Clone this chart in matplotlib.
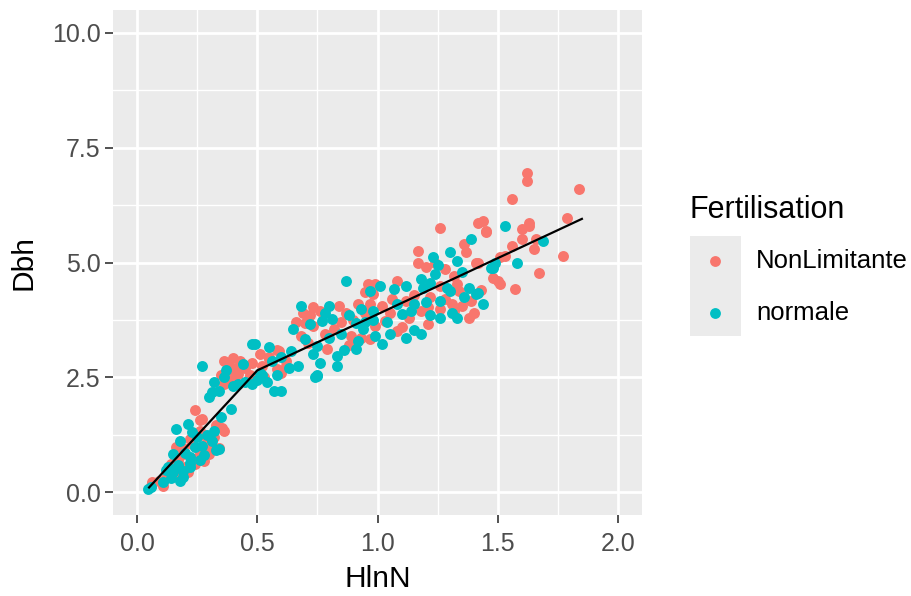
import numpy as np
import matplotlib
matplotlib.use("Agg")
from matplotlib import pyplot as plt
from matplotlib.patches import Rectangle

plt.rcParams['font.family'] = ['Liberation Sans', 'DejaVu Sans']

# NonLimitante (red)
nl_x = [0.06, 0.107, 0.063, 0.14, 0.18, 0.15, 0.24, 0.26, 0.26, 0.36, 0.30, 0.26, 0.30, 0.19, 0.16,
        0.21, 0.24, 0.36, 0.36, 0.40, 0.38, 0.42, 0.46, 0.355, 0.27, 0.34, 0.22, 0.20, 0.28, 0.12,
        0.17, 0.23, 0.29, 0.32, 0.14, 0.25, 0.19, 0.33, 0.28, 0.09,
        0.38, 0.40, 0.43, 0.35, 0.41, 0.47, 0.52, 0.55, 0.60, 0.62, 0.53, 0.58,
        0.96, 0.95, 0.69, 0.73, 0.84, 0.87, 0.73, 0.70, 0.68, 0.79, 0.89, 0.99, 0.59, 0.51, 0.48,
        0.58, 0.62, 0.93, 0.55, 0.45,
        0.72, 0.76, 0.82, 0.85, 0.90, 0.92, 0.78, 0.95, 0.88, 0.97, 0.66, 0.71,
        1.26, 1.42, 1.45, 1.36, 1.17, 1.17, 1.24, 1.37, 1.41, 1.50, 1.26, 1.08, 0.99, 1.33, 1.34,
        1.39, 1.12, 1.21, 1.06, 1.31, 1.26, 1.13, 1.38, 1.21, 1.08, 1.03, 0.98, 0.97,
        1.02, 1.05, 1.15, 1.18, 1.22, 1.28, 1.32, 1.35, 1.40, 1.10, 1.43, 1.28, 1.32, 1.20,
        1.62, 1.62, 1.84, 1.56, 1.79, 1.44, 1.45, 1.63, 1.60, 1.60, 1.66, 1.65, 1.56, 1.51, 1.53,
        1.77, 1.67, 1.48, 1.51, 1.57, 1.42, 1.63]
nl_y = [0.14, 0.14, 0.22, 0.62, 0.33, 0.48, 1.78, 1.56, 1.34, 1.34, 0.91, 0.87, 0.83, 0.83, 0.98,
        0.43, 0.62, 2.36, 2.86, 2.93, 2.79, 2.57, 2.43, 1.39, 1.60, 0.97, 1.15, 0.55, 1.25, 0.30,
        0.70, 1.05, 1.10, 1.20, 0.40, 0.75, 0.95, 1.45, 0.68, 0.25,
        2.60, 2.45, 2.85, 2.55, 2.70, 2.55, 2.75, 2.95, 2.60, 2.85, 2.50, 3.10,
        4.53, 4.35, 3.91, 4.02, 4.06, 3.91, 3.62, 3.69, 3.40, 3.11, 3.40, 3.62, 3.07, 3.00, 2.82,
        2.67, 2.75, 3.36, 2.90, 2.70,
        3.85, 3.95, 3.55, 3.70, 3.75, 4.10, 3.45, 3.90, 3.20, 4.10, 3.70, 3.25,
        5.76, 5.87, 5.66, 5.40, 5.25, 5.00, 5.00, 5.22, 5.00, 4.60, 4.49, 4.60, 4.53, 4.53, 4.38,
        4.16, 4.16, 4.02, 4.20, 4.09, 3.98, 3.80, 3.80, 3.65, 3.51, 3.73, 4.31, 3.33,
        4.05, 3.90, 4.30, 3.95, 4.25, 4.20, 3.95, 4.05, 3.90, 3.60, 4.40, 4.85, 4.70, 4.90,
        6.96, 6.78, 6.60, 6.38, 5.98, 5.90, 5.69, 5.87, 5.73, 5.51, 5.51, 5.29, 5.36, 5.11, 5.14,
        5.14, 4.78, 4.67, 4.53, 4.42, 5.00, 5.80]

# normale (teal)
no_x = [0.045, 0.056, 0.11, 0.15, 0.12, 0.19, 0.16, 0.21, 0.18, 0.32, 0.31, 0.24, 0.33, 0.22, 0.15,
        0.22, 0.18, 0.26, 0.35, 0.30, 0.34, 0.32, 0.27, 0.44, 0.48, 0.48, 0.42, 0.31, 0.39, 0.27,
        0.34, 0.22, 0.13,
        0.17, 0.20, 0.25, 0.28, 0.14, 0.23, 0.29, 0.19, 0.36, 0.45, 0.40, 0.37,
        0.51, 0.54, 0.60, 0.63, 0.58,
        0.87, 0.97, 0.68, 0.80, 0.93, 0.77, 0.81, 0.65, 0.70, 0.75, 0.83, 0.76, 0.67, 0.75, 0.83,
        0.91, 0.94, 0.99, 0.49, 0.55, 0.64, 0.52, 0.57, 0.60, 0.75, 0.91, 0.74, 0.50, 0.56,
        0.72, 0.78, 0.85, 0.88, 0.95, 0.92, 0.73, 0.86, 0.98, 0.80,
        1.39, 1.30, 1.33, 1.23, 1.48, 1.18, 1.24, 1.19, 1.01, 1.07, 1.12, 1.30, 1.36, 1.41, 1.15,
        1.26, 1.10, 1.26, 1.33, 1.15, 1.18, 0.98, 1.02,
        1.04, 1.08, 1.14, 1.20, 1.22, 1.29, 1.31, 1.38, 1.44, 1.12, 1.05, 1.25, 1.35, 1.22,
        1.53, 1.69, 1.58, 1.47, 1.49, 1.42]
no_y = [0.06, 0.12, 0.22, 0.43, 0.48, 0.33, 1.38, 1.49, 1.12, 1.34, 1.12, 0.98, 0.91, 0.76, 0.83,
        0.54, 0.25, 0.69, 1.63, 2.07, 2.21, 2.39, 2.75, 2.79, 3.22, 2.36, 2.36, 2.18, 1.80, 1.00,
        0.93, 0.63, 0.55,
        0.60, 0.85, 1.20, 0.80, 0.30, 1.30, 1.25, 0.45, 2.50, 2.40, 2.30, 2.65,
        2.60, 2.40, 2.95, 2.70, 2.55,
        4.60, 4.38, 4.06, 4.06, 3.98, 3.73, 3.76, 3.55, 3.33, 3.18, 2.96, 2.82, 2.75, 2.56, 2.75,
        3.11, 3.55, 3.40, 3.22, 3.15, 3.07, 2.56, 2.20, 2.20, 2.53, 3.69, 2.50, 2.45, 2.85,
        3.65, 3.90, 3.45, 3.85, 3.70, 3.30, 3.00, 3.10, 3.75, 3.35,
        5.51, 5.22, 5.04, 5.11, 4.89, 4.64, 4.75, 4.45, 4.49, 4.42, 4.49, 4.38, 4.24, 4.31, 4.09,
        4.16, 3.87, 3.80, 3.80, 3.54, 3.44, 3.94, 3.22,
        3.70, 4.10, 3.95, 4.15, 3.85, 4.45, 3.90, 4.45, 4.10, 3.35, 3.45, 4.95, 4.80, 4.55,
        5.80, 5.47, 5.00, 4.89, 5.00, 4.34]

# fitted segmented line
fit_x = [0.05, 0.50, 1.85]
fit_y = [0.10, 2.65, 5.95]

RED = '#F8766D'
TEAL = '#00BFC4'

fig = plt.figure(figsize=(9.11, 5.96), dpi=100)
ax = fig.add_axes([113/911, 81/596, 529/911, 505/596])
ax.set_facecolor('#EBEBEB')

ax.scatter(nl_x, nl_y, s=62, c=RED, linewidths=0, zorder=3)
ax.scatter(no_x, no_y, s=62, c=TEAL, linewidths=0, zorder=3)
ax.plot(fit_x, fit_y, color='black', lw=1.6, zorder=4)

ax.set_xlim(-0.1, 2.1)
ax.set_ylim(-0.5, 10.5)
ax.set_xticks([0.0, 0.5, 1.0, 1.5, 2.0])
ax.set_yticks([0.0, 2.5, 5.0, 7.5, 10.0])
ax.set_xticklabels(['0.0', '0.5', '1.0', '1.5', '2.0'])
ax.set_yticklabels(['0.0', '2.5', '5.0', '7.5', '10.0'])
ax.set_xticks([0.25, 0.75, 1.25, 1.75], minor=True)
ax.set_yticks([1.25, 3.75, 6.25, 8.75], minor=True)
ax.grid(which='major', color='white', lw=2.0)
ax.grid(which='minor', color='white', lw=1.0)
ax.set_axisbelow(True)
for sp in ax.spines.values():
    sp.set_visible(False)
ax.tick_params(which='major', length=5.5, width=1.2, color='#333333',
               labelsize=18, labelcolor='#4D4D4D')
ax.tick_params(axis='x', which='major', pad=7)
ax.tick_params(axis='y', which='major', pad=3.5)
ax.tick_params(which='minor', length=0)
ax.set_xlabel('HlnN', fontsize=21.5, labelpad=6)
ax.set_ylabel('Dbh', fontsize=21.5, labelpad=10)

# legend drawn by hand in pixel coords
def px(x, y):
    return x/911, 1 - y/596

fig.text(*px(690, 218), 'Fertilisation', fontsize=22, ha='left', va='baseline')
fig.patches.append(Rectangle(px(690, 336), 51/911, 100/596, transform=fig.transFigure,
                             facecolor='#EBEBEB', edgecolor='none'))
for yy, col, lab in [(261, RED, 'NonLimitante'), (313, TEAL, 'normale')]:
    fig.lines.append(plt.Line2D([715/911], [1 - yy/596], transform=fig.transFigure,
                                marker='o', ms=7.8, mec='none', mfc=col, ls=''))
    fig.text(*px(756, yy), lab, fontsize=18.5, ha='left', va='center')

fig.savefig('out.png', dpi=100)
